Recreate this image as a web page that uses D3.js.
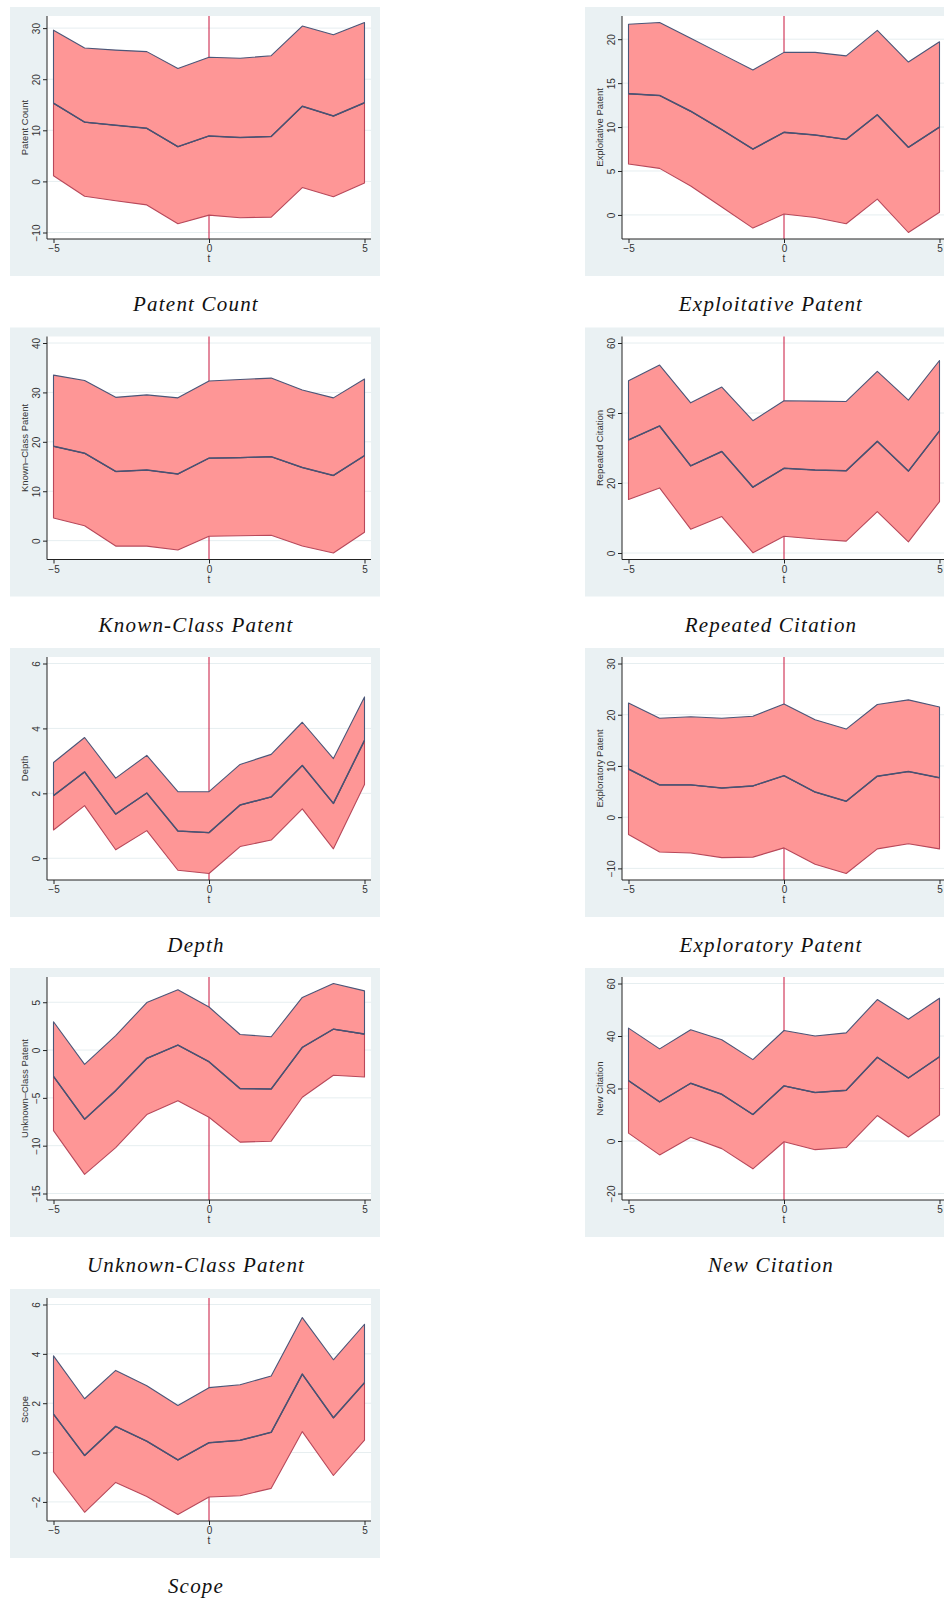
<!DOCTYPE html>
<html>
<head>
<meta charset="utf-8">
<script src="https://cdn.jsdelivr.net/npm/d3@7"></script>
<style>
  body { margin: 0; background: #fff; }
  svg { display: block; }
</style>
</head>
<body>
<script>
// event time
const t = [-5, -4, -3, -2, -1, 0, 1, 2, 3, 4, 5];
const xTicks = [-5, 0, 5];

// upper bound / estimate / lower bound
const patentCountHi = [29.6, 26.1, 25.7, 25.4, 22.1, 24.3, 24.1, 24.6, 30.4, 28.7, 31.1];
const patentCountMid = [15.3, 11.6, 11.0, 10.4, 6.8, 8.9, 8.6, 8.8, 14.7, 12.8, 15.4];
const patentCountLo = [1.1, -2.9, -3.8, -4.6, -8.3, -6.6, -7.1, -7.0, -1.2, -3.0, -0.3];
const patentCountTicks = [-10, 0, 10, 20, 30];

const exploitHi = [21.7, 21.9, 20.1, 18.3, 16.5, 18.5, 18.5, 18.1, 21.0, 17.4, 19.7];
const exploitMid = [13.8, 13.6, 11.8, 9.7, 7.5, 9.4, 9.1, 8.6, 11.4, 7.7, 10.0];
const exploitLo = [5.8, 5.3, 3.3, 0.9, -1.5, 0.1, -0.3, -1.0, 1.8, -2.0, 0.3];
const exploitTicks = [0, 5, 10, 15, 20];

const knownHi = [33.5, 32.4, 29.0, 29.5, 28.9, 32.3, 32.6, 32.9, 30.5, 28.9, 32.7];
const knownMid = [19.1, 17.7, 14.0, 14.3, 13.5, 16.7, 16.8, 17.0, 14.8, 13.2, 17.2];
const knownLo = [4.6, 3.0, -1.1, -1.1, -1.9, 0.9, 1.0, 1.1, -1.1, -2.5, 1.7];
const knownTicks = [0, 10, 20, 30, 40];

const repeatHi = [49.2, 53.7, 42.9, 47.4, 37.8, 43.5, 43.4, 43.3, 51.9, 43.7, 55.0];
const repeatMid = [32.3, 36.3, 24.9, 29.0, 18.8, 24.2, 23.7, 23.5, 31.9, 23.4, 34.9];
const repeatLo = [15.3, 18.6, 6.8, 10.4, 0.1, 4.8, 4.0, 3.4, 11.8, 3.2, 14.7];
const repeatTicks = [0, 20, 40, 60];

const depthHi = [2.95, 3.72, 2.47, 3.17, 2.05, 2.05, 2.89, 3.20, 4.19, 3.07, 4.97];
const depthMid = [1.93, 2.66, 1.36, 2.01, 0.84, 0.79, 1.64, 1.89, 2.86, 1.69, 3.63];
const depthLo = [0.87, 1.62, 0.26, 0.85, -0.37, -0.47, 0.36, 0.56, 1.52, 0.29, 2.27];
const depthTicks = [0, 2, 4, 6];

const exploreHi = [22.3, 19.3, 19.6, 19.3, 19.7, 22.1, 19.0, 17.2, 22.0, 22.9, 21.5];
const exploreMid = [9.4, 6.3, 6.3, 5.7, 6.1, 8.1, 4.9, 3.1, 8.0, 8.9, 7.7];
const exploreLo = [-3.4, -6.8, -7.0, -7.9, -7.8, -6.0, -9.2, -11.0, -6.2, -5.2, -6.2];
const exploreTicks = [-10, 0, 10, 20, 30];

const unknownHi = [2.96, -1.5, 1.5, 4.97, 6.3, 4.5, 1.63, 1.39, 5.5, 6.96, 6.19];
const unknownMid = [-2.75, -7.23, -4.24, -0.87, 0.52, -1.22, -4.03, -4.07, 0.28, 2.19, 1.67];
const unknownLo = [-8.42, -13.0, -10.2, -6.75, -5.29, -7.03, -9.63, -9.53, -4.94, -2.64, -2.82];
const unknownTicks = [-15, -10, -5, 0, 5];

const newCiteHi = [43.0, 35.1, 42.4, 38.6, 31.0, 42.1, 40.0, 41.2, 53.9, 46.4, 54.4];
const newCiteMid = [23.0, 14.9, 22.0, 17.8, 10.1, 21.0, 18.5, 19.3, 31.9, 24.0, 32.1];
const newCiteLo = [3.0, -5.3, 1.4, -2.9, -10.6, -0.3, -3.3, -2.5, 9.7, 1.5, 9.9];
const newCiteTicks = [-20, 0, 20, 40, 60];

const scopeHi = [3.92, 2.18, 3.33, 2.71, 1.91, 2.63, 2.75, 3.10, 5.47, 3.76, 5.20];
const scopeMid = [1.56, -0.12, 1.06, 0.46, -0.30, 0.40, 0.50, 0.82, 3.18, 1.41, 2.83];
const scopeLo = [-0.77, -2.42, -1.21, -1.78, -2.51, -1.80, -1.75, -1.45, 0.85, -0.93, 0.50];
const scopeTicks = [-2, 0, 2, 4, 6];

const panels = [
  { title: 'Patent Count', ylab: 'Patent Count', hi: patentCountHi, mid: patentCountMid, lo: patentCountLo, ticks: patentCountTicks },
  { title: 'Exploitative Patent', ylab: 'Exploitative Patent', hi: exploitHi, mid: exploitMid, lo: exploitLo, ticks: exploitTicks },
  { title: 'Known-Class Patent', ylab: 'Known\u2013Class Patent', hi: knownHi, mid: knownMid, lo: knownLo, ticks: knownTicks },
  { title: 'Repeated Citation', ylab: 'Repeated Citation', hi: repeatHi, mid: repeatMid, lo: repeatLo, ticks: repeatTicks },
  { title: 'Depth', ylab: 'Depth', hi: depthHi, mid: depthMid, lo: depthLo, ticks: depthTicks },
  { title: 'Exploratory Patent', ylab: 'Exploratory Patent', hi: exploreHi, mid: exploreMid, lo: exploreLo, ticks: exploreTicks },
  { title: 'Unknown-Class Patent', ylab: 'Unknown\u2013Class Patent', hi: unknownHi, mid: unknownMid, lo: unknownLo, ticks: unknownTicks },
  { title: 'New Citation', ylab: 'New Citation', hi: newCiteHi, mid: newCiteMid, lo: newCiteLo, ticks: newCiteTicks },
  { title: 'Scope', ylab: 'Scope', hi: scopeHi, mid: scopeMid, lo: scopeLo, ticks: scopeTicks },
];

const width = 944;
const height = 1599;
const colX = [10, 585];
const rowY = [7, 327.5, 648, 968, 1289];
const panelW = 370;
const panelH = 269;
const margin = { top: 9, right: 9, bottom: 37, left: 37 };
const pad = 6.5; // stata plotregion margin
const pw = panelW - margin.left - margin.right;
const ph = panelH - margin.top - margin.bottom;

const sans = '"Liberation Sans", Arial, sans-serif';
const fmt = d3.format('d');

const svg = d3.select('body').append('svg')
  .attr('width', width)
  .attr('height', height);

panels.forEach((p, k) => {
  const g = svg.append('g')
    .attr('transform', `translate(${colX[k % 2]},${rowY[Math.floor(k / 2)]})`);

  g.append('rect')
    .attr('width', panelW)
    .attr('height', panelH)
    .attr('fill', '#eaf1f3');

  g.append('rect')
    .attr('x', margin.left)
    .attr('y', margin.top)
    .attr('width', pw)
    .attr('height', ph)
    .attr('fill', '#fff');

  const x = d3.scaleLinear()
    .domain(d3.extent(t))
    .range([margin.left + pad, margin.left + pw - pad]);

  const y = d3.scaleLinear()
    .domain(d3.extent([...p.hi, ...p.lo, ...p.ticks]))
    .range([margin.top + ph - pad, margin.top + pad]);

  // grid
  g.append('g')
    .selectAll('line')
    .data(p.ticks)
    .enter()
    .append('line')
    .attr('x1', margin.left)
    .attr('x2', margin.left + pw)
    .attr('y1', d => y(d))
    .attr('y2', d => y(d))
    .attr('stroke', '#e6eef0')
    .attr('stroke-width', 1);

  // xline(0), behind the band
  g.append('line')
    .attr('x1', x(0))
    .attr('x2', x(0))
    .attr('y1', margin.top)
    .attr('y2', margin.top + ph)
    .attr('stroke', '#c8143c')
    .attr('stroke-width', 1);

  const lower = d3.area()
    .x((d, i) => x(t[i]))
    .y0((d, i) => y(p.lo[i]))
    .y1(d => y(d));

  const upper = d3.area()
    .x((d, i) => x(t[i]))
    .y0(d => y(d))
    .y1((d, i) => y(p.hi[i]));

  g.append('path')
    .datum(p.mid)
    .attr('d', lower)
    .attr('fill', '#fe9696')
    .attr('stroke', '#b8485a')
    .attr('stroke-width', 1.1)
    .attr('stroke-linejoin', 'round');

  g.append('path')
    .datum(p.mid)
    .attr('d', upper)
    .attr('fill', '#fe9696')
    .attr('stroke', '#4b5678')
    .attr('stroke-width', 1.1)
    .attr('stroke-linejoin', 'round');

  // estimate line sits where both outlines meet
  g.append('path')
    .datum(p.mid)
    .attr('d', d3.line().x((d, i) => x(t[i])).y(d => y(d)))
    .attr('fill', 'none')
    .attr('stroke', '#4a5272')
    .attr('stroke-width', 1.45)
    .attr('stroke-linejoin', 'round');

  // axes
  g.append('g')
    .attr('transform', `translate(${margin.left},0)`)
    .call(d3.axisLeft(y).tickValues(p.ticks).tickFormat(fmt).tickSize(4).tickSizeOuter(0))
    .call(a => a.select('.domain').remove())
    .call(a => a.selectAll('line').attr('stroke', '#222'))
    .call(a => a.selectAll('text')
      .attr('transform', 'rotate(-90)')
      .attr('x', 0)
      .attr('y', -7.5)
      .attr('dy', 0)
      .attr('text-anchor', 'middle')
      .attr('fill', '#333')
      .style('font', `10px ${sans}`));

  g.append('g')
    .attr('transform', `translate(0,${margin.top + ph})`)
    .call(d3.axisBottom(x).tickValues(xTicks).tickFormat(fmt).tickSize(4).tickSizeOuter(0))
    .call(a => a.select('.domain').remove())
    .call(a => a.selectAll('line').attr('stroke', '#222'))
    .call(a => a.selectAll('text')
      .attr('y', 6)
      .attr('fill', '#333')
      .style('font', `10px ${sans}`));

  g.append('line')
    .attr('x1', margin.left)
    .attr('x2', margin.left)
    .attr('y1', margin.top)
    .attr('y2', margin.top + ph)
    .attr('stroke', '#222');

  g.append('line')
    .attr('x1', margin.left)
    .attr('x2', margin.left + pw)
    .attr('y1', margin.top + ph)
    .attr('y2', margin.top + ph)
    .attr('stroke', '#222');

  g.append('text')
    .attr('x', x(0))
    .attr('y', margin.top + ph + 23)
    .attr('text-anchor', 'middle')
    .attr('fill', '#333')
    .style('font', `10px ${sans}`)
    .text('t');

  g.append('text')
    .attr('transform', `translate(${margin.left - 19.5},${margin.top + ph / 2}) rotate(-90)`)
    .attr('text-anchor', 'middle')
    .attr('fill', '#333')
    .style('font', `9.5px ${sans}`)
    .text(p.ylab);

  g.append('text')
    .attr('x', panelW / 2 + 1)
    .attr('y', 304)
    .attr('text-anchor', 'middle')
    .attr('fill', '#111')
    .style('font', 'italic 21px "Liberation Serif", "Times New Roman", serif')
    .style('letter-spacing', '1.2px')
    .text(p.title);
});
</script>
</body>
</html>
